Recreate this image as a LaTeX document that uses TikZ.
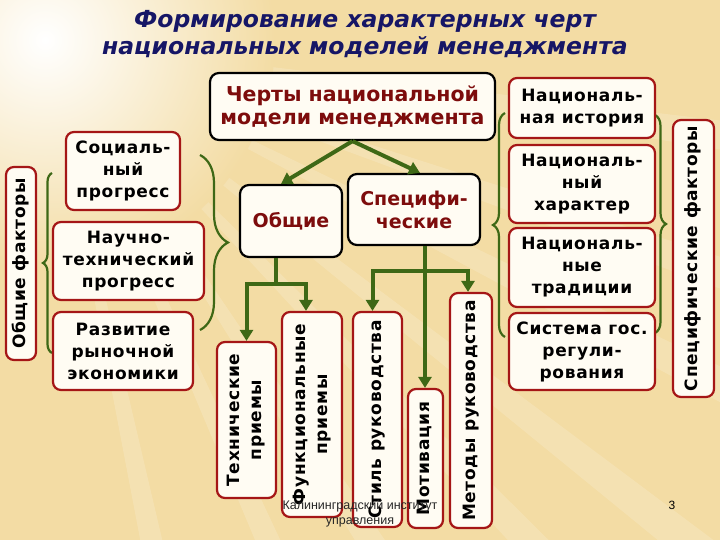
\documentclass[tikz,border=0pt]{standalone}
\usepackage{fontspec}
\setmainfont{DejaVu Sans}
\newfontfamily\boxfont[LetterSpace=4]{DejaVu Sans}
\newfontfamily\footfont{Liberation Sans}
\usepackage{graphicx}
\usepackage{tikz}
\usetikzlibrary{arrows.meta,decorations.pathreplacing}

\definecolor{bgsand}{RGB}{243,220,164}
\definecolor{boxred}{RGB}{165,22,22}
\definecolor{textred}{RGB}{125,12,12}
\definecolor{linkgreen}{RGB}{62,104,22}
\definecolor{titleblue}{RGB}{22,22,102}
\definecolor{boxfill}{RGB}{255,252,243}

\newcommand{\vtext}[1]{\rotatebox{90}{\begin{tabular}{@{}c@{}}#1\end{tabular}}}

\begin{document}
\begin{tikzpicture}[x=1pt,y=-1pt]
    \tikzset{factor/.style = {draw=boxred, line width=2.2pt, fill=boxfill, rounded corners=8pt, align=center, inner sep=0pt, font=\boxfont\fontsize{17}{22}\selectfont\bfseries}}
    \tikzset{feature/.style = {draw=black, line width=2.2pt, fill=boxfill, rounded corners=9pt, align=center, inner sep=0pt, text=textred, font=\fontsize{19}{23}\selectfont\bfseries}}
    \tikzset{link/.style = {draw=linkgreen, line width=4pt}}
    \tikzset{edge/.style = {link, -{Triangle[length=11pt,width=13pt]}}}
    \tikzset{bracket/.style = {draw=linkgreen, line width=2.2pt, decorate, decoration={brace, amplitude=#1}}}
    % background
    \useasboundingbox (0,0) rectangle (720,540);
    \fill[bgsand] (0,0) rectangle (720,540);
    \begin{scope}
        \clip (0,0) rectangle (720,540);
        \foreach \a in {8,19,27,38,46,57,66,78} {
            \fill[white, opacity=0.16] (45,40) -- ++(\a-1.2:950) -- ++(\a+91.2:40) -- cycle;
        }
        \shade[inner color=white, outer color=bgsand] (45,40) circle (230);
    \end{scope}
    % title
    \node[text=titleblue, align=center, font=\fontsize{23.5}{27}\selectfont\bfseries\itshape] (title) at (365,34) {Формирование характерных черт\\национальных моделей менеджмента};
    % braces
    \draw[bracket=9pt] (52,353) -- (52,173);
    \draw[bracket=28pt] (200,155) -- (200,330);
    \draw[bracket=12pt] (505,337) -- (505,113);
    \draw[bracket=11pt] (655,115) -- (655,333);
    % vertices
    \node[feature, minimum width=285pt, minimum height=67pt, font=\fontsize{20.5}{23}\selectfont\bfseries] (main) at (352.5,106.5) {Черты национальной\\модели менеджмента};
    \node[feature, minimum width=102pt, minimum height=72pt] (obsh) at (291,221) {Общие};
    \node[feature, minimum width=132pt, minimum height=71pt] (spec) at (414,209.5) {Специфи-\\ческие};
    \node[factor, minimum width=30pt, minimum height=193pt] (obfak) at (21,263.5) {\vtext{Общие факторы}};
    \node[factor, minimum width=114pt, minimum height=78pt] (soc) at (123,171) {Социаль-\\ный\\прогресс};
    \node[factor, minimum width=151pt, minimum height=78pt] (nauch) at (128.5,261) {Научно-\\технический\\прогресс};
    \node[factor, minimum width=140pt, minimum height=78pt] (razv) at (123,351) {Развитие\\рыночной\\экономики};
    \node[factor, minimum width=59pt, minimum height=156pt] (tech) at (246.5,420) {\vtext{Технические\\приемы}};
    \node[factor, minimum width=60pt, minimum height=205pt] (func) at (312,414.5) {\vtext{Функциональные\\приемы}};
    \node[factor, minimum width=49pt, minimum height=215pt] (stil) at (377.5,419.5) {\vtext{Стиль руководства}};
    \node[factor, minimum width=35pt, minimum height=139pt] (motiv) at (425.5,458.5) {\vtext{Мотивация}};
    \node[factor, minimum width=42pt, minimum height=235pt] (metod) at (471,410.5) {\vtext{Методы руководства}};
    \node[factor, minimum width=146pt, minimum height=60pt] (ist) at (582,108) {Националь-\\ная история};
    \node[factor, minimum width=146pt, minimum height=78pt] (har) at (582,184) {Националь-\\ный\\характер};
    \node[factor, minimum width=146pt, minimum height=79pt] (trad) at (582,267.5) {Националь-\\ные\\традиции};
    \node[factor, minimum width=146pt, minimum height=77pt] (sist) at (582,351.5) {Система гос.\\регули-\\рования};
    \node[factor, minimum width=41pt, minimum height=277pt] (spfak) at (693.5,258.5) {\vtext{Специфические факторы}};
    % edges
    \draw[edge] (main.south) -- ([xshift=-10pt]obsh.north);
    \draw[edge] (main.south) -- ([xshift=6pt]spec.north);
    \draw[link] ([xshift=-15pt]obsh.south) -- ++(0,26) coordinate (oj);
    \draw[edge] (oj) -| (tech.north);
    \draw[edge] (oj) -| ([xshift=-6pt]func.north);
    \draw[link] ([xshift=11pt]spec.south) -- ++(0,25) coordinate (sj);
    \draw[edge] (sj) -| ([xshift=-5pt]stil.north);
    \draw[edge] (sj) -| ([xshift=-3pt]metod.north);
    \draw[edge] (sj) -- (sj |- motiv.north);
    % footer
    \node[align=center, text=black!85, font=\footfont\fontsize{12.5}{15}\selectfont] (inst) at (360,514) {Калининградский институт\\управления};
    \node[font=\footfont\fontsize{12}{14}\selectfont] (page) at (672,505) {3};
\end{tikzpicture}
\end{document}
